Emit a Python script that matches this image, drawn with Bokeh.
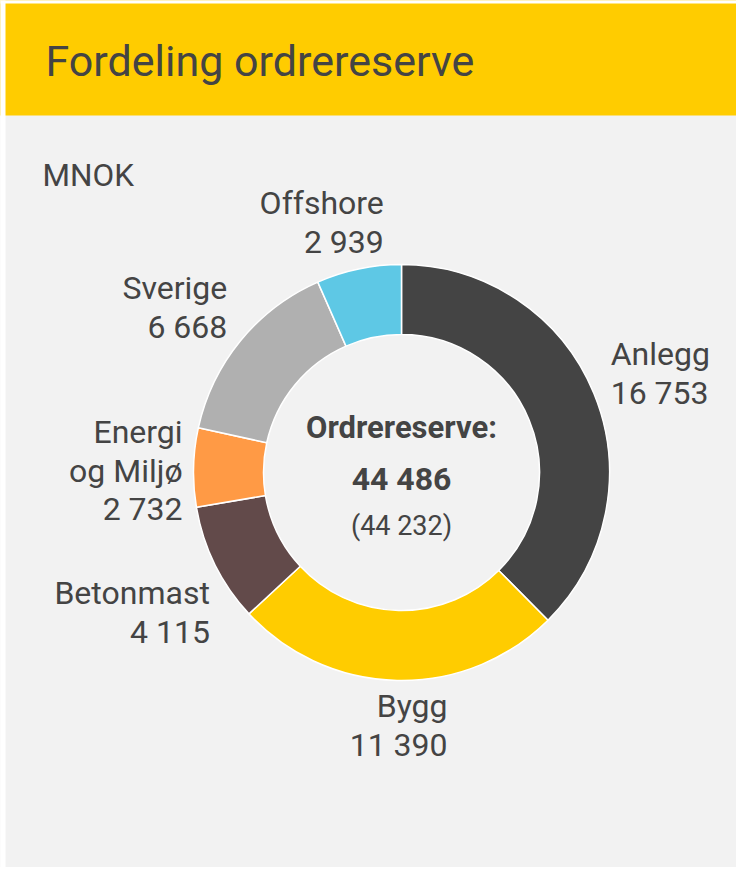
import math
from bokeh.plotting import figure
from bokeh.models import Range1d, BoxAnnotation, ColumnDataSource, Label
from bokeh.core.properties import value
from bokeh.embed import file_html
from bokeh.resources import INLINE

# ---- data ----
categories = ["Anlegg", "Bygg", "Betonmast", "Energi\nog Miljø", "Sverige", "Offshore"]
values = [16753, 11390, 4115, 2732, 6668, 2939]
value_labels = ["16 753", "11 390", "4 115", "2 732", "6 668", "2 939"]
colors = ["#444444", "#FFCC00", "#624A4A", "#FF9A45", "#B0B0B0", "#5EC8E5"]
title_text = "Fordeling ordrereserve"
unit_text = "MNOK"
center_title = "Ordrereserve:"
center_value = "44 486"
center_prev = "(44 232)"

# ---- layout (reference pixel space, y measured downward) ----
W, H = 736, 867
FONT = "Roboto"
TXT = "#444444"

def Y(ref_y):
    # convert reference screen y (downward) into data y (upward)
    return H - ref_y

cx, cy = 401, 472
r_out, r_in = 208, 138
label_dist = 237
label_nudge = [(-10, -9), (51, 16), (21, 35), (18, 4), (9, -15), (31, -18)]
label_align = ["left", "right", "right", "right", "right", "right"]

total = sum(values)
starts, ends, lx, ly, ltext = [], [], [], [], []
cum = 0.0
for i, v in enumerate(values):
    a0 = cum / total
    cum += v
    a1 = cum / total
    starts.append(math.pi / 2 - 2 * math.pi * a0)
    ends.append(math.pi / 2 - 2 * math.pi * a1)
    mid = 2 * math.pi * (a0 + a1) / 2  # clockwise from top
    x = cx + label_dist * math.sin(mid) + label_nudge[i][0]
    yref = cy - label_dist * math.cos(mid) + label_nudge[i][1]
    lx.append(x)
    ly.append(Y(yref))
    ltext.append(categories[i] + "\n" + value_labels[i])

p = figure(width=W, height=H, output_backend="svg", toolbar_location=None,
           x_range=Range1d(0, W), y_range=Range1d(0, H),
           x_axis_type=None, y_axis_type=None, min_border=0,
           background_fill_color="#F2F2F2", border_fill_color="#F2F2F2",
           outline_line_color=None)
p.grid.visible = False

# header band and thin white frame edge as in the reference
p.add_layout(BoxAnnotation(bottom=Y(115), top=H + 10, left=-10, right=W + 10,
                           fill_color="#FFCC00", fill_alpha=1, line_alpha=0))
p.add_layout(BoxAnnotation(bottom=Y(3), top=H + 10, left=-10, right=W + 10,
                           fill_color="white", fill_alpha=1, line_alpha=0))
p.add_layout(BoxAnnotation(bottom=-10, top=H + 10, left=-10, right=5,
                           fill_color="white", fill_alpha=1, line_alpha=0))
p.add_layout(Label(x=45, y=Y(60), text=title_text, text_font=FONT,
                   text_font_size="43px", text_color=TXT, text_baseline="middle"))
p.add_layout(Label(x=42, y=Y(175), text=unit_text, text_font=FONT,
                   text_font_size="31.5px", text_color=TXT, text_baseline="middle"))

src = ColumnDataSource(dict(start=starts, end=ends, color=colors,
                            cat=categories, val=values))
p.annular_wedge(x=cx, y=Y(cy), inner_radius=r_in, outer_radius=r_out,
                start_angle="start", end_angle="end", direction="clock",
                fill_color="color", line_color="white", line_width=1.5, source=src)

for i in range(len(values)):
    p.text(x=[lx[i]], y=[ly[i]], text=[ltext[i]], text_font=value(FONT),
           text_font_size="32px", text_color=TXT, text_align=label_align[i],
           text_baseline="middle", text_line_height=1.02)

p.text(x=[cx], y=[Y(427)], text=[center_title], text_font=value(FONT),
       text_font_size="31px", text_font_style="bold", text_color=TXT,
       text_align="center", text_baseline="middle")
p.text(x=[cx], y=[Y(478)], text=[center_value], text_font=value(FONT),
       text_font_size="32px", text_font_style="bold", text_color=TXT,
       text_align="center", text_baseline="middle")
p.text(x=[cx], y=[Y(525)], text=[center_prev], text_font=value(FONT),
       text_font_size="27px", text_color=TXT,
       text_align="center", text_baseline="middle")

open("out.html", "w").write(file_html(p, INLINE))
